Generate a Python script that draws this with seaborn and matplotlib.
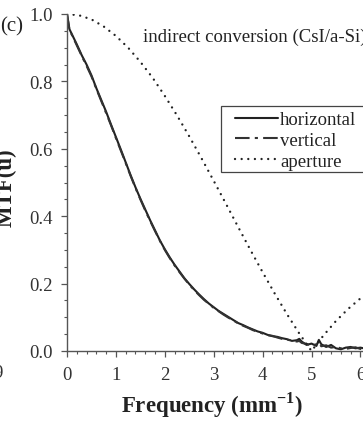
import numpy as np
import pandas as pd
import matplotlib
matplotlib.use("Agg")
import matplotlib.pyplot as plt
from matplotlib.patches import Rectangle
from matplotlib.ticker import MultipleLocator, FormatStrFormatter
import seaborn as sns

# Measured MTF of the indirect-conversion detector (CsI/a-Si)
freq = [0.0, 0.05, 0.1, 0.2, 0.3, 0.4, 0.5, 0.6, 0.7, 0.8, 0.9, 1.0, 1.1, 1.2, 1.3,
        1.4, 1.5, 1.6, 1.7, 1.8, 1.9, 2.0, 2.1, 2.2, 2.3, 2.4, 2.5, 2.6, 2.7, 2.8,
        2.9, 3.0, 3.1, 3.2, 3.3, 3.4, 3.5, 3.6, 3.7, 3.8, 3.9, 4.0, 4.1, 4.2, 4.3,
        4.4, 4.5, 4.6, 4.7, 4.75, 4.8, 4.9, 5.0, 5.1, 5.15, 5.2, 5.3, 5.4, 5.5,
        5.6, 5.7, 5.8, 5.9, 6.0, 6.1, 6.2]
mtf_horizontal = [1.000, 0.955, 0.940, 0.910, 0.878, 0.850, 0.818, 0.780, 0.745, 0.710,
                  0.672, 0.635, 0.598, 0.560, 0.522, 0.486, 0.452, 0.420, 0.388, 0.358,
                  0.328, 0.302, 0.278, 0.256, 0.236, 0.216, 0.199, 0.183, 0.168, 0.154,
                  0.141, 0.130, 0.119, 0.110, 0.101, 0.092, 0.083, 0.077, 0.070, 0.064,
                  0.058, 0.054, 0.048, 0.044, 0.042, 0.038, 0.035, 0.030, 0.032, 0.036,
                  0.028, 0.018, 0.022, 0.015, 0.033, 0.020, 0.012, 0.018, 0.008, 0.005,
                  0.010, 0.012, 0.008, 0.010, 0.007, 0.009]
mtf_vertical = [1.000, 0.952, 0.938, 0.907, 0.876, 0.846, 0.815, 0.778, 0.742, 0.706,
                0.670, 0.632, 0.595, 0.558, 0.520, 0.484, 0.450, 0.417, 0.386, 0.356,
                0.327, 0.300, 0.276, 0.254, 0.234, 0.215, 0.197, 0.181, 0.166, 0.152,
                0.140, 0.128, 0.118, 0.108, 0.099, 0.091, 0.082, 0.075, 0.069, 0.062,
                0.057, 0.052, 0.047, 0.045, 0.040, 0.036, 0.033, 0.032, 0.028, 0.030,
                0.024, 0.021, 0.016, 0.020, 0.025, 0.014, 0.017, 0.010, 0.012, 0.008,
                0.006, 0.009, 0.011, 0.006, 0.010, 0.008]

# Detector element aperture response
freq_aperture = [0.0, 0.25, 0.5, 0.75, 1.0, 1.25, 1.5, 1.75, 2.0, 2.25, 2.5, 2.75, 3.0,
                 3.25, 3.5, 3.75, 4.0, 4.25, 4.5, 4.75, 5.0, 5.25, 5.5, 5.75, 6.0, 6.25]
mtf_aperture = [1.000, 0.996, 0.984, 0.963, 0.935, 0.900, 0.858, 0.811, 0.757, 0.699,
                0.637, 0.572, 0.505, 0.437, 0.368, 0.300, 0.234, 0.170, 0.109, 0.052,
                0.000, 0.047, 0.089, 0.125, 0.156, 0.182]

x_ticks = [0, 1, 2, 3, 4, 5, 6]
y_ticks = [0.0, 0.2, 0.4, 0.6, 0.8, 1.0]

sns.set_theme(style="ticks")
plt.rcParams["font.family"] = ["Liberation Serif", "DejaVu Serif"]
plt.rcParams["mathtext.fontset"] = "custom"
plt.rcParams["mathtext.rm"] = "Liberation Serif"
plt.rcParams["mathtext.bf"] = "Liberation Serif:bold"

ink = "#222222"
W, H = 363, 431
fig = plt.figure(figsize=(W / 100, H / 100), dpi=100)
fig.patch.set_facecolor("white")

# axes: x=0 at px 67, 48.9 px per unit; y=0 at px 352, y=1 at px 15
x0_px, ppu = 67, 48.9
y0_px, y1_px = 352, 15
xmax = 6.3
ax = fig.add_axes([x0_px / W, (H - y0_px) / H, xmax * ppu / W, (y0_px - y1_px) / H])
ax.set_facecolor("white")

df_h = pd.DataFrame({"freq": freq, "mtf": mtf_horizontal})
df_v = pd.DataFrame({"freq": freq, "mtf": mtf_vertical})
df_a = pd.DataFrame({"freq": freq_aperture, "mtf": mtf_aperture})

sns.lineplot(data=df_h, x="freq", y="mtf", ax=ax, color=ink, lw=1.5,
             label="horizontal", sort=False)
sns.lineplot(data=df_v, x="freq", y="mtf", ax=ax, color="#333333", lw=1.5,
             label="vertical", sort=False)
ax.lines[-1].set_dashes((7, 2.5, 1.5, 2.5))
sns.lineplot(data=df_a, x="freq", y="mtf", ax=ax, color=ink, lw=1.7,
             label="aperture", sort=False)
ax.lines[-1].set_dashes((0.01, 2.8))
ax.lines[-1].set_dash_capstyle("round")

ax.set_xlim(0, xmax)
ax.set_ylim(0, 1.0)
ax.set_xticks(x_ticks)
ax.set_yticks(y_ticks)
ax.yaxis.set_major_formatter(FormatStrFormatter("%.1f"))
ax.xaxis.set_minor_locator(MultipleLocator(0.2))
ax.yaxis.set_minor_locator(MultipleLocator(0.05))
ax.tick_params(axis="both", which="major", direction="out", length=4, width=0.9,
               color="#555555", labelsize=13.5, labelcolor="#333333", pad=6.5)
ax.tick_params(axis="both", which="minor", direction="out", length=2.5, width=0.8,
               color="#555555")
for side in ("top", "right"):
    ax.spines[side].set_visible(False)
for side in ("left", "bottom"):
    ax.spines[side].set_color("#555555")
    ax.spines[side].set_linewidth(1.0)

ax.set_xlabel("")
ax.set_ylabel("")
fig.text(212 / W, 1 - 405 / H, "Frequency (mm$^{\\mathbf{-1}}$)", ha="center",
         va="center", fontsize=16.5, fontweight="bold", color=ink)
fig.text(6 / W, 1 - 188 / H, "MTF(u)", rotation=90, ha="center", va="center",
         fontsize=16.5, fontweight="bold", color=ink)

fig.text(0 / W, 1 - 27 / H, "(c)", ha="left", va="center", fontsize=15, color=ink)
fig.text(-2 / W, 1 - 374 / H, "9", ha="center", va="center", fontsize=13.5,
         color="#333333")

ax.text(1.55, 0.935, "indirect conversion (CsI/a-Si)", ha="left", va="center",
        fontsize=13.5, color=ink)

# legend box: open to the right edge of the figure
box = Rectangle((221 / W, 1 - 173 / H), 0.5, 66 / H, transform=fig.transFigure,
                facecolor="white", edgecolor="#444444", linewidth=0.9,
                clip_on=False, zorder=4)
ax.add_artist(box)
leg = ax.legend(loc="upper left", bbox_to_anchor=(235 / W, 1 - 112 / H),
                bbox_transform=fig.transFigure, borderaxespad=0, borderpad=0,
                fontsize=13.5, frameon=False, handlelength=2.3,
                handletextpad=0.1, labelspacing=0.2)
leg.set_zorder(6)
for t in leg.get_texts():
    t.set_color(ink)

fig.savefig("out.png", dpi=100)
